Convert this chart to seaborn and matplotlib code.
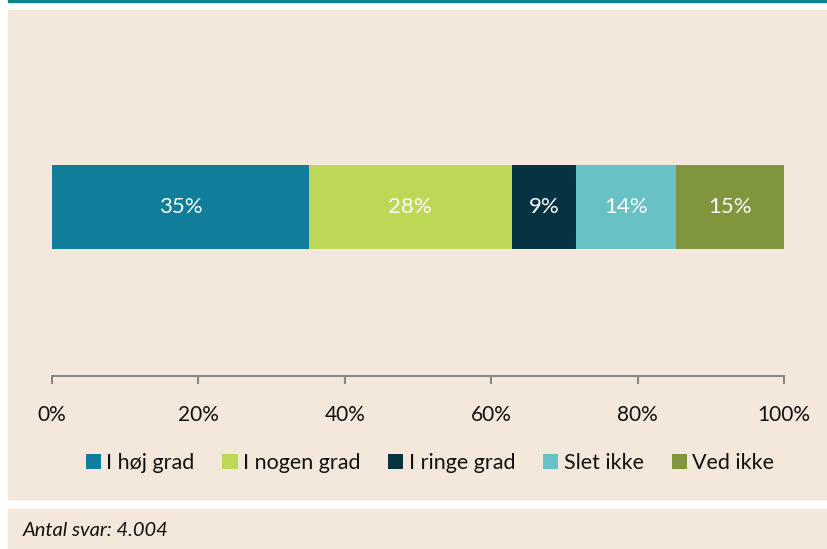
import matplotlib
matplotlib.use("Agg")
import matplotlib.pyplot as plt
from matplotlib.patches import Rectangle, Patch
import pandas as pd
import seaborn as sns

# data (share of answers, %)
categories = ["I høj grad", "I nogen grad", "I ringe grad", "Slet ikke", "Ved ikke"]
shares = [35.1, 27.7, 8.8, 13.7, 14.7]
colors = ["#107E9A", "#BDD757", "#063342", "#68C1C4", "#7F963D"]
tick_vals = [0, 20, 40, 60, 80, 100]
footer = "Antal svar: 4.004"

bg = "#F4E8DC"
W, H = 827, 549

sns.set_theme(style="white")
plt.rcParams["font.family"] = ["Lato", "DejaVu Sans"]

fig = plt.figure(figsize=(W / 100, H / 100), dpi=100, facecolor="white")

def px_rect(x0, y0, x1, y1, color):
    # rectangle in pixel coords measured from the top-left corner
    fig.patches.append(Rectangle((x0 / W, 1 - y1 / H), (x1 - x0) / W, (y1 - y0) / H,
                                 transform=fig.transFigure, color=color, zorder=-10))

px_rect(8, 0, W, 1.6, "#10808F")   # teal rule at the top
px_rect(8, 10, W, 499, bg)         # chart panel
px_rect(8, 509, W, H, bg)          # footer panel

ax = fig.add_axes([52 / W, 1 - 376 / H, (784 - 52) / W, (376 - 40) / H])
ax.set_facecolor("none")

df = pd.DataFrame({"cat": categories, "share": shares})
df["cum"] = df["share"].cumsum()

# stacked bar: draw cumulative totals from the longest down
for i in reversed(range(len(df))):
    sns.barplot(x=[df["cum"][i]], y=["row"], color=colors[i], saturation=1,
                width=0.5, ax=ax, orient="h", linewidth=0, edgecolor="none")

left = 0
for s in shares:
    ax.text(left + s / 2, 0, f"{round(s)}%", ha="center", va="center",
            color="white", fontsize=16)
    left += s

ax.set_xlim(0, 100)
ax.set_ylim(0.997, -0.985)
ax.set_xticks(tick_vals)
ax.set_xticklabels([f"{t}%" for t in tick_vals], fontsize=15, color="#111111")
ax.set_yticks([])
ax.set_xlabel("")
ax.set_ylabel("")
for sp in ["top", "left", "right"]:
    ax.spines[sp].set_visible(False)
ax.spines["bottom"].set_color("#888888")
ax.spines["bottom"].set_linewidth(1.5)
ax.tick_params(axis="x", direction="out", length=6, width=1.5, color="#888888",
               pad=15, bottom=True)

handles = [Patch(facecolor=c, edgecolor="none") for c in colors]
fig.legend(handles, categories, loc="center", bbox_to_anchor=(430 / W, 1 - 463 / H),
           ncol=5, frameon=False, fontsize=15.5, handlelength=0.7, handleheight=0.7,
           handletextpad=0.25, columnspacing=1.3, labelcolor="#111111")

fig.text(23 / W, 1 - 530 / H, footer, fontsize=14.5, style="italic", va="center",
         color="#111111")

fig.savefig("out.png", dpi=100, facecolor="white")
